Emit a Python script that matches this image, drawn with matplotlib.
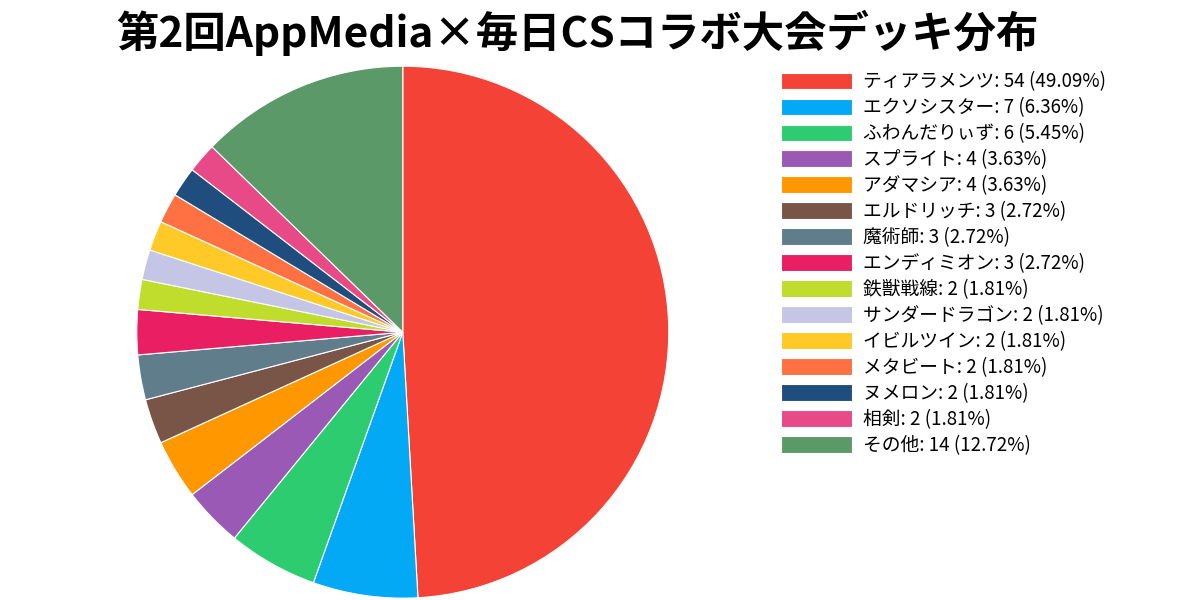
import matplotlib
matplotlib.use("Agg")
import matplotlib.pyplot as plt

plt.rcParams['font.family'] = ['Noto Sans CJK JP', 'DejaVu Sans']

title = "第2回AppMedia×毎日CSコラボ大会デッキ分布"
decks = ["ティアラメンツ", "エクソシスター", "ふわんだりぃず", "スプライト", "アダマシア",
         "エルドリッチ", "魔術師", "エンディミオン", "鉄獣戦線", "サンダードラゴン",
         "イビルツイン", "メタビート", "ヌメロン", "相剣", "その他"]
counts = [54, 7, 6, 4, 4, 3, 3, 3, 2, 2, 2, 2, 2, 2, 14]
colors = ["#f44336", "#03a9f4", "#2ecc71", "#9b59b6", "#ff9800",
          "#795548", "#607d8b", "#e91e63", "#c0dc2c", "#c5c5e6",
          "#ffca28", "#ff7043", "#1f4e7e", "#e84a87", "#5b9a68"]

total = sum(counts)


def pct(v):
    # percentages are truncated to two decimals
    return int(v / total * 10000) / 100


labels = [f"{d}: {c} ({pct(c):.2f}%)" for d, c in zip(decks, counts)]

fig = plt.figure(figsize=(12, 6), dpi=100)
ax = fig.add_axes([0.114, 0.003, 0.4433, 0.8867])
wedges, _ = ax.pie(counts, colors=colors, startangle=90, counterclock=False,
                   radius=1.0, wedgeprops=dict(edgecolor="white", linewidth=0.8))
ax.set_xlim(-1, 1)
ax.set_ylim(-1, 1)
ax.set_aspect("equal")

fig.text(0.481, 0.945, title, ha="center", va="center",
         fontsize=30.5, fontweight="bold", color="black")

fig.legend(wedges, labels, loc="upper left", bbox_to_anchor=(0.651, 0.881),
           frameon=False, fontsize=13.5, handlelength=3.8, handleheight=1.0,
           labelspacing=0.265, handletextpad=0.55, borderpad=0, borderaxespad=0)

fig.savefig("out.png", dpi=100)
